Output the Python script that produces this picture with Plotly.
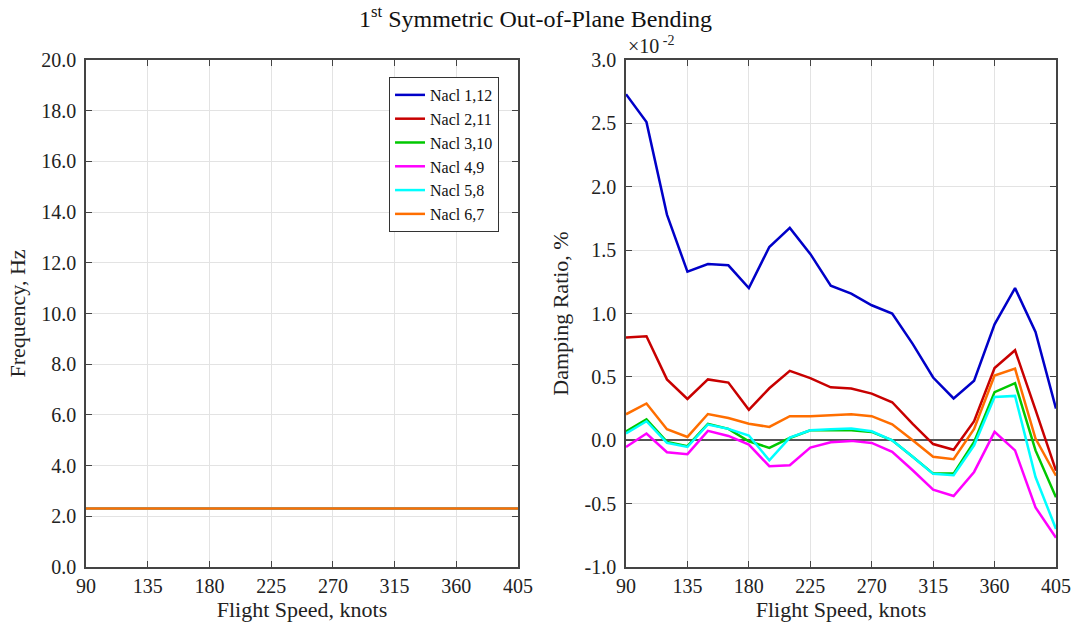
import plotly.graph_objects as go
from plotly.subplots import make_subplots

speeds = [90, 105, 120, 135, 150, 165, 180, 195, 210, 225, 240, 255, 270, 285, 300, 315, 330, 345, 360, 375, 390, 405]
names = ["Nacl 1,12", "Nacl 2,11", "Nacl 3,10", "Nacl 4,9", "Nacl 5,8", "Nacl 6,7"]
colors = ["#0000C8", "#C80000", "#00C800", "#FF00FF", "#00FFFF", "#FF6E00"]

freq_hz = 2.31  # all nacelles identical

damp_1_12 = [2.73, 2.51, 1.78, 1.33, 1.39, 1.38, 1.20, 1.525, 1.675, 1.47, 1.22, 1.157, 1.065, 1.0, 0.76, 0.495, 0.33, 0.47, 0.915, 1.20, 0.855, 0.25]
damp_2_11 = [0.81, 0.82, 0.48, 0.326, 0.48, 0.455, 0.24, 0.41, 0.547, 0.49, 0.418, 0.408, 0.368, 0.30, 0.13, -0.03, -0.075, 0.15, 0.57, 0.71, 0.24, -0.24]
damp_3_10 = [0.07, 0.165, -0.013, -0.047, 0.13, 0.09, -0.008, -0.06, 0.018, 0.079, 0.079, 0.079, 0.066, 0.0, -0.13, -0.263, -0.263, -0.013, 0.38, 0.45, -0.08, -0.45]
damp_4_9 = [-0.053, 0.053, -0.095, -0.11, 0.074, 0.034, -0.034, -0.205, -0.197, -0.058, -0.016, -0.005, -0.021, -0.092, -0.237, -0.39, -0.44, -0.25, 0.066, -0.08, -0.53, -0.77]
damp_5_8 = [0.053, 0.15, -0.021, -0.053, 0.124, 0.09, 0.037, -0.158, 0.021, 0.079, 0.087, 0.092, 0.071, 0.0, -0.13, -0.265, -0.276, -0.04, 0.342, 0.35, -0.29, -0.70]
damp_6_7 = [0.205, 0.29, 0.087, 0.026, 0.207, 0.176, 0.13, 0.105, 0.19, 0.19, 0.197, 0.205, 0.19, 0.126, 0.0, -0.13, -0.15, 0.09, 0.51, 0.565, 0.013, -0.28]
damping = [damp_1_12, damp_2_11, damp_3_10, damp_4_9, damp_5_8, damp_6_7]

x_ticks = [90, 135, 180, 225, 270, 315, 360, 405]
freq_ticks = [0, 2, 4, 6, 8, 10, 12, 14, 16, 18, 20]
damp_ticks = [-1.0, -0.5, 0.0, 0.5, 1.0, 1.5, 2.0, 2.5, 3.0]
damp_tick_text = [f"{v:.1f}" for v in damp_ticks]  # hyphen-minus as in reference

FONT = "Liberation Serif"

fig = make_subplots(rows=1, cols=2, horizontal_spacing=0.1113)

for name, col in zip(names, colors):
    fig.add_trace(go.Scatter(x=speeds, y=[freq_hz] * len(speeds), mode="lines", name=name,
                             line=dict(color=col, width=2.5), showlegend=True), row=1, col=1)

for name, col, d in zip(names, colors, damping):
    fig.add_trace(go.Scatter(x=speeds, y=d, mode="lines", name=name,
                             line=dict(color=col, width=2.5), showlegend=False), row=1, col=2)

axis_common = dict(showline=True, linecolor="#444444", linewidth=1.5, mirror="ticks",
                   ticks="inside", ticklen=6, tickcolor="#444444", showgrid=True,
                   gridcolor="#E3E3E3", gridwidth=1, zeroline=False, automargin=False,
                   tickfont=dict(family=FONT, size=20, color="#222222"),
                   title_font=dict(family=FONT, size=22, color="#222222"))

fig.update_xaxes(axis_common, range=[90, 405], tickvals=x_ticks, title_text="Flight Speed, knots",
                 title_standoff=3)
fig.update_xaxes(row=1, col=1, domain=[0.0, 0.4454])
fig.update_xaxes(row=1, col=2, domain=[0.5567, 1.0])
fig.update_yaxes(axis_common, row=1, col=1, range=[0, 20], tickvals=freq_ticks, tickformat=".1f",
                 title_text="Frequency, Hz", title_standoff=10, ticklabelstandoff=4)
fig.update_yaxes(axis_common, row=1, col=2, range=[-1.0, 3.0], tickvals=damp_ticks,
                 ticktext=damp_tick_text, title_text="Damping Ratio, %", title_standoff=10,
                 ticklabelstandoff=4)
fig.update_yaxes(row=1, col=2, zeroline=True, zerolinecolor="#555555", zerolinewidth=2)

fig.add_annotation(text="×10<sup> -2</sup>", xref="x2 domain", yref="y2 domain", x=0.0, y=1.0,
                   xanchor="left", yanchor="bottom", showarrow=False, yshift=1,
                   font=dict(family=FONT, size=20, color="#222222"))

fig.update_layout(
    width=1071, height=629,
    margin=dict(l=86, r=15, t=60, b=62),
    paper_bgcolor="white", plot_bgcolor="white",
    title=dict(text="1<sup>st</sup> Symmetric Out-of-Plane Bending", x=0.5, xanchor="center",
               y=1 - 19 / 629, yanchor="middle", font=dict(family=FONT, size=24, color="#111111")),
    legend=dict(x=0.3124, y=0.9665, xanchor="left", yanchor="top", bgcolor="white",
                bordercolor="#333333", borderwidth=1, font=dict(family=FONT, size=16, color="#111111"),
                tracegroupgap=0, itemwidth=30),
)

fig.write_html("out.html", config={"displayModeBar": False},
               post_script="document.body.style.margin='0';document.body.style.overflow='hidden';")
